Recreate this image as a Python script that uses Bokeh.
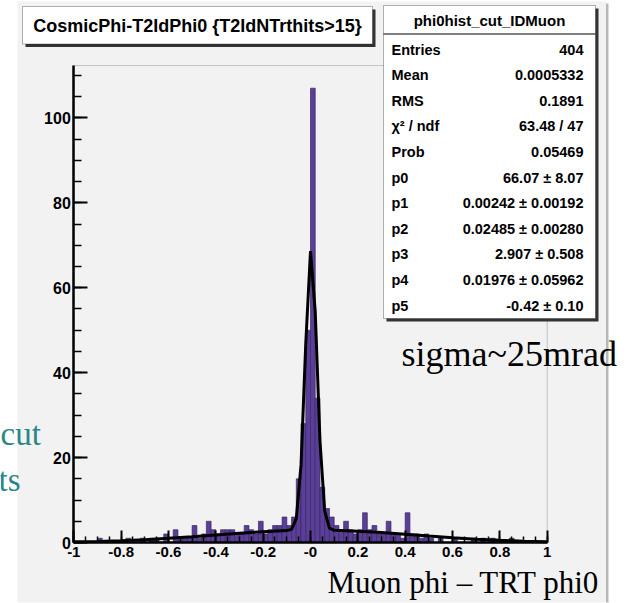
import numpy as np
from bokeh.plotting import figure
from bokeh.models import Range1d, FixedTicker, BoxAnnotation, Label, PolyAnnotation, LinearAxis
from bokeh.embed import file_html
from bokeh.resources import INLINE

# ---------------- data ----------------
x_lo, x_hi, n_bins = -1.0, 1.0, 100
counts = [0, 0, 0, 0, 0, 1, 0, 0, 0, 0,
          0, 1, 0, 0, 1, 0, 1, 1, 0, 2,
          0, 3, 1, 1, 1, 4, 1, 2, 5, 3,
          2, 3, 3, 3, 2, 2, 4, 3, 2, 5,
          2, 3, 4, 4, 6, 4, 6, 15, 28, 50,
          107, 34, 13, 8, 6, 4, 3, 5, 3, 2,
          3, 7, 3, 4, 2, 2, 5, 2, 2, 1,
          7, 2, 2, 1, 2, 1, 0, 1, 0, 0,
          1, 0, 0, 0, 1, 0, 1, 0, 1, 0,
          0, 0, 1, 0, 0, 0, 0, 0, 0, 0]
fit_x = [-1.0, -0.9, -0.8, -0.7, -0.6, -0.5, -0.4, -0.3, -0.2, -0.1,
         -0.08, -0.06, -0.04, -0.02, 0.0, 0.02, 0.04, 0.06, 0.08, 0.1,
         0.2, 0.3, 0.4, 0.5, 0.6, 0.7, 0.8, 0.9, 1.0]
fit_y = [0.15, 0.26, 0.43, 0.67, 0.98, 1.35, 1.76, 2.18, 2.54, 2.80,
         3.10, 5.67, 18.27, 46.87, 68.66, 54.36, 23.95, 7.40, 3.39, 2.88,
         2.65, 2.33, 1.93, 1.51, 1.12, 0.78, 0.52, 0.32, 0.19]
x_ticks = [-1.0, -0.8, -0.6, -0.4, -0.2, 0.0, 0.2, 0.4, 0.6, 0.8, 1.0]
x_tick_labels = ["-1", "-0.8", "-0.6", "-0.4", "-0.2", "-0", "0.2", "0.4", "0.6", "0.8", "1"]
y_ticks = [0, 20, 40, 60, 80, 100]
y_tick_labels = ["0", "20", "40", "60", "80", "100"]
title_text = "CosmicPhi-T2IdPhi0 {T2IdNTrthits>15}"
stats_title = "phi0hist_cut_IDMuon"
stats_names = ["Entries", "Mean", "RMS", "\u03c7\u00b2 / ndf", "Prob", "p0", "p1", "p2", "p3", "p4", "p5"]
stats_values = ["404", "0.0005332", "0.1891", "63.48 / 47", "0.05469", "66.07 \u00b1 8.07",
                "0.00242 \u00b1 0.00192", "0.02485 \u00b1 0.00280", "2.907 \u00b1 0.508",
                "0.01976 \u00b1 0.05962", "-0.42 \u00b1 0.10"]
x_title = "Muon phi \u2013 TRT phi0"
note_text = "sigma~25mrad"
side_texts = ["cut", "ts"]

# ---------------- layout / styles ----------------
W, H = 637, 603
FR_L, FR_R, FR_T, FR_B = 73.3, 546.7, 65.0, 542.0   # plot frame in canvas pixels
SANS = "Liberation Sans"
SERIF = "Liberation Serif"
BG = "#f2f2f2"
FILL = "#5a3e99"
TEAL = "#2a8787"

edges = np.linspace(x_lo, x_hi, n_bins + 1)
ymax = 1.05 * max(counts)
sx = (FR_R - FR_L) / (x_hi - x_lo)
sy = (FR_B - FR_T) / ymax
xr = Range1d(x_lo - FR_L / sx, x_hi + (W - FR_R) / sx)
yr = Range1d(-(H - FR_B) / sy, ymax + FR_T / sy)

p = figure(width=W, height=H, x_range=xr, y_range=yr, title=None,
           x_axis_type=None, y_axis_type=None, toolbar_location=None, output_backend="svg",
           min_border=0, background_fill_color="white", border_fill_color="white",
           outline_line_color=None)

# canvas-pixel ranges for decorations
p.extra_x_ranges = {"cx": Range1d(0, W)}
p.extra_y_ranges = {"cy": Range1d(H, 0)}

def cbox(l, r, t, b, color, level="annotation", line_color=None, lw=1, fill_alpha=1.0):
    box = BoxAnnotation(left=l, right=r, top=t, bottom=b, fill_color=color, fill_alpha=fill_alpha,
                        line_color=line_color, line_width=lw, level=level,
                        x_range_name="cx", y_range_name="cy")
    p.add_layout(box)
    return box

# grey ROOT canvas (white page around it) and its right border
cbox(17, 605.5, 1, 602, BG, level="underlay")
cbox(605.5, 608, 3, 602, "#b8b8b8", level="underlay")

# frame (top/right edges)
p.add_layout(BoxAnnotation(left=x_lo, right=x_hi, bottom=0, top=ymax, fill_alpha=0,
                           line_color="#555555", line_width=1, level="underlay"))

# axes, fixed at the frame edges
xaxis = LinearAxis(ticker=FixedTicker(ticks=x_ticks, minor_ticks=list(np.arange(-1.0, 1.0001, 0.05))),
                   fixed_location=0, bounds=(x_lo, x_hi))
xaxis.major_label_overrides = {t: s for t, s in zip(x_ticks, x_tick_labels)}
yaxis = LinearAxis(ticker=FixedTicker(ticks=y_ticks, minor_ticks=list(range(0, 115, 5))),
                   fixed_location=x_lo, bounds=(0, ymax))
yaxis.major_label_overrides = {t: s for t, s in zip(y_ticks, y_tick_labels)}
for ax in (xaxis, yaxis):
    ax.axis_line_width = 2.5
    ax.axis_line_color = "black"
    ax.major_tick_line_width = 2
    ax.minor_tick_line_width = 1.5
    ax.major_tick_out = 0
    ax.minor_tick_out = 0
    ax.major_label_text_font = SANS
    ax.major_label_text_font_style = "bold"
    ax.major_label_text_color = "black"
xaxis.major_label_text_font_size = "15px"
yaxis.major_label_text_font_size = "16px"
xaxis.major_tick_in = 12
xaxis.minor_tick_in = 6
xaxis.major_label_standoff = 4
yaxis.major_tick_in = 14
yaxis.minor_tick_in = 8
yaxis.major_label_standoff = 3
p.add_layout(xaxis, "below")
p.add_layout(yaxis, "left")

# histogram and fit
p.quad(left=edges[:-1], right=edges[1:], top=counts, bottom=0,
       fill_color=FILL, line_color="#3a2a60", line_width=0.7)
p.line(fit_x, fit_y, line_color="black", line_width=3)

# title box
cbox(25, 375, 9, 46.5, "#333333")
cbox(22, 372, 6, 43.5, "white", line_color="black", lw=1)
p.add_layout(Label(x=197, y=25, text=title_text, x_range_name="cx", y_range_name="cy",
                   text_font=SANS, text_font_style="bold", text_font_size="18px",
                   text_align="center", text_baseline="middle", text_color="black"))

# stats box
cbox(386, 598, 8, 321, "#333333")
cbox(383, 595, 5, 318, "white", line_color="black", lw=1)
cbox(383, 595, 33, 34, "black")
p.add_layout(Label(x=489, y=20, text=stats_title, x_range_name="cx", y_range_name="cy",
                   text_font=SANS, text_font_style="bold", text_font_size="15px",
                   text_align="center", text_baseline="middle", text_color="black"))
for i, (nm, vl) in enumerate(zip(stats_names, stats_values)):
    yy = 49 + i * 25.6
    p.add_layout(Label(x=391, y=yy, text=nm, x_range_name="cx", y_range_name="cy",
                       text_font=SANS, text_font_style="bold", text_font_size="14.5px",
                       text_align="left", text_baseline="middle", text_color="black"))
    p.add_layout(Label(x=583, y=yy, text=vl, x_range_name="cx", y_range_name="cy",
                       text_font=SANS, text_font_style="bold", text_font_size="14.5px",
                       text_align="right", text_baseline="middle", text_color="black"))

# slide texts
p.add_layout(Label(x=401, y=353.5, text=note_text, x_range_name="cx", y_range_name="cy",
                   text_font=SERIF, text_font_size="36px", text_align="left",
                   text_baseline="middle", text_color="black"))
p.add_layout(Label(x=327, y=582, text=x_title, x_range_name="cx", y_range_name="cy",
                   text_font=SERIF, text_font_size="31px", text_align="left",
                   text_baseline="middle", text_color="black"))
p.add_layout(Label(x=0, y=433, text=side_texts[0], x_range_name="cx", y_range_name="cy",
                   text_font=SERIF, text_font_size="33px", text_align="left",
                   text_baseline="middle", text_color=TEAL))
p.add_layout(Label(x=-2, y=479, text=side_texts[1], x_range_name="cx", y_range_name="cy",
                   text_font=SERIF, text_font_size="33px", text_align="left",
                   text_baseline="middle", text_color=TEAL))
p.add_layout(PolyAnnotation(xs=[-1, 18, -1], ys=[523, 530, 537], fill_color=TEAL, fill_alpha=1,
                            line_color=None, x_range_name="cx", y_range_name="cy"))

open("out.html", "w").write(file_html(p, INLINE))
